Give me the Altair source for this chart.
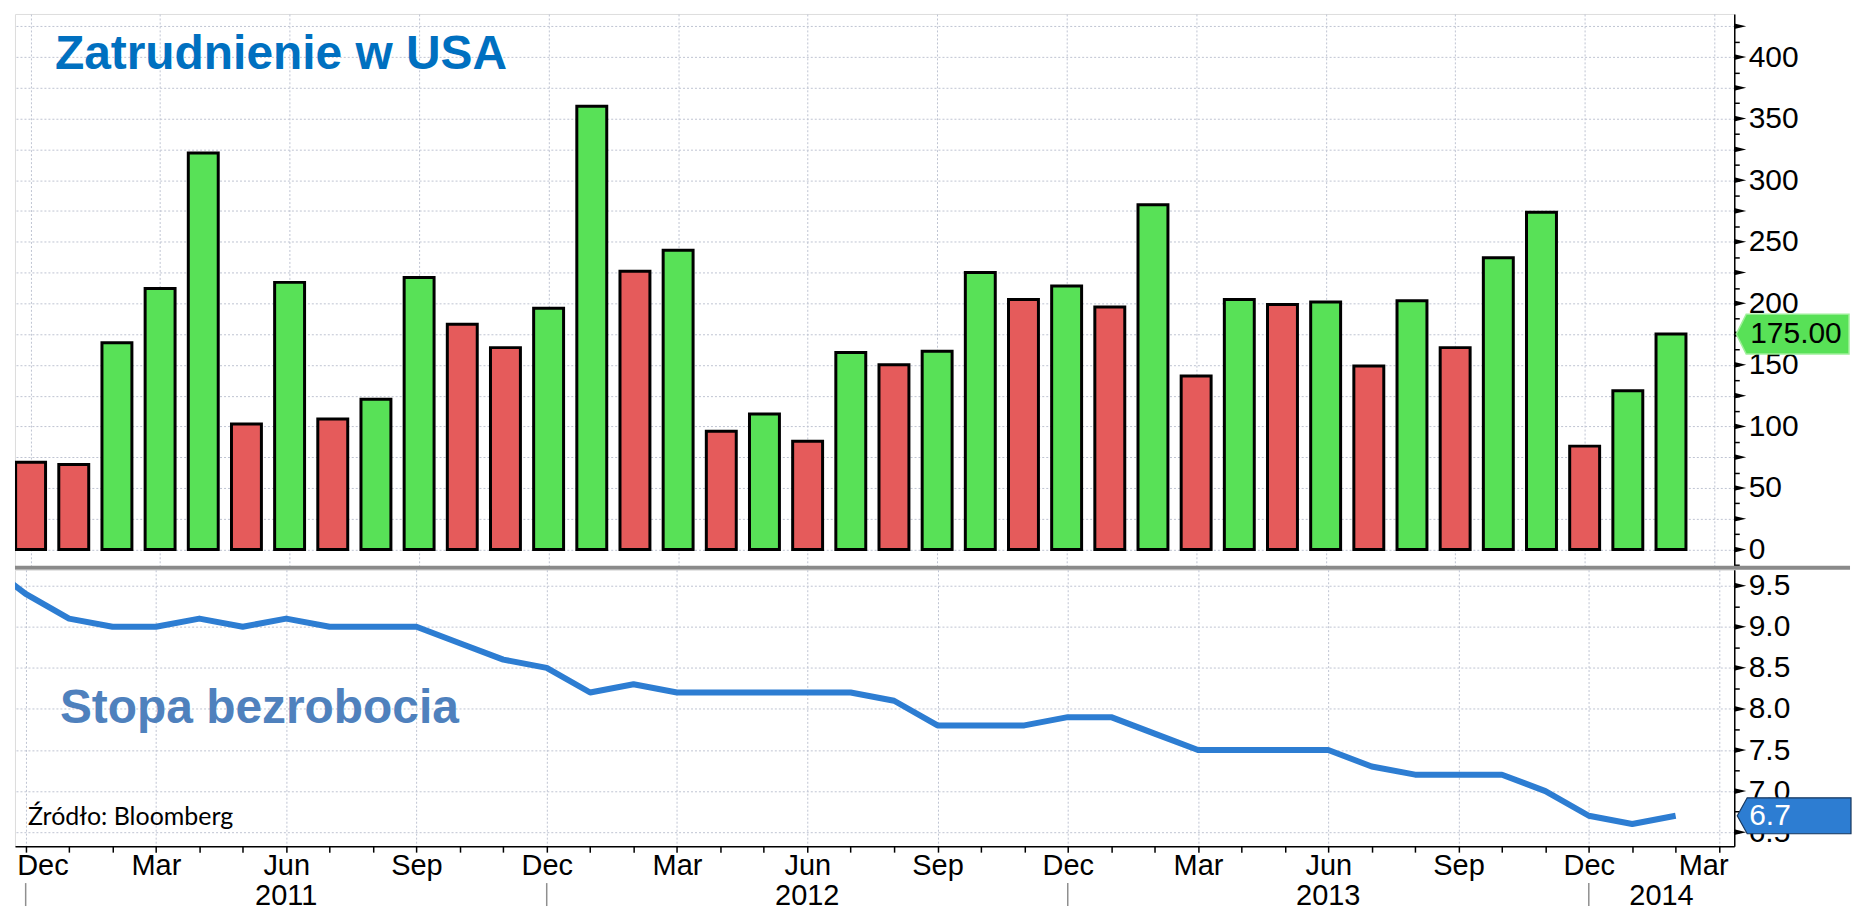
import altair as alt
import pandas as pd

# ---------------- data ----------------
# month index: 0 = Dec 2010 ... 38 = Feb 2014
payroll_idx = list(range(39))
payrolls = [71, 69, 168, 212, 322, 102, 217, 106, 122, 221, 183, 164, 196,
            360, 226, 243, 96, 110, 88, 160, 150, 161, 225, 203, 214,
            197, 280, 141, 203, 199, 201, 149, 202, 164, 237, 274, 84, 129, 175]
direction = ["down", "down", "up", "up", "up", "down", "up", "down", "up", "up",
             "down", "down", "up", "up", "down", "up", "down", "up", "down", "up",
             "down", "up", "up", "down", "up", "down", "up", "down", "up", "down",
             "up", "down", "up", "down", "up", "up", "down", "up", "up"]

# -1 = Nov 2010 ... 38 = Feb 2014
unemp_idx = list(range(-1, 39))
unemployment = [9.8, 9.4, 9.1, 9.0, 9.0, 9.1, 9.0, 9.1, 9.0, 9.0, 9.0, 8.8, 8.6, 8.5,
                8.2, 8.3, 8.2, 8.2, 8.2, 8.2, 8.2, 8.1, 7.8, 7.8, 7.8, 7.9,
                7.9, 7.7, 7.5, 7.5, 7.5, 7.5, 7.3, 7.2, 7.2, 7.2, 7.0, 6.7, 6.6, 6.7]

month_labels = ["Dec", "Mar", "Jun", "Sep"]
year_labels = ["2011", "2012", "2013", "2014"]
year_sep_idx = [0, 12, 24, 36]

top_title = "Zatrudnienie w USA"
bottom_title = "Stopa bezrobocia"
source_text = "Źródło: Bloomberg"

# ---------------- styling / layout ----------------
GREEN = "#58e157"
RED = "#e55b5b"
BLUE = "#2d7dd2"
GRID = "#bfc4d2"
FONT = "Liberation Sans"

X_MIN, X_MAX = -0.246, 39.35
W = 1723
TOP_H = 555
BOT_H = 277
TOP_DOM = [-14.8, 435]
BOT_DOM = [6.33, 9.694]

year_pos = [6, 18, 30, (36 + X_MAX) / 2]

x_scale = alt.Scale(domain=[X_MIN, X_MAX], nice=False, zero=False)

x_axis_top = alt.Axis(values=list(range(0, 40, 3)), labels=False, ticks=False,
                      domain=False, grid=True, gridColor=GRID, gridDash=[2, 2],
                      gridWidth=1, title=None)

month_arr = "[" + ",".join("'" + m + "'" for m in month_labels) + "]"
x_label_expr = "datum.value % 3 === 0 ? " + month_arr + "[(datum.value / 3) % 4] : ''"
x_axis_bot = alt.Axis(
    values=list(range(40)), grid=True, gridColor=GRID, gridDash=[2, 2], gridWidth=1,
    gridOpacity={"condition": {"test": "datum.value % 3 === 0", "value": 1}, "value": 0},
    labelExpr=x_label_expr,
    labelFont=FONT, labelFontSize=29, labelColor="#000", labelPadding=-1,
    labelFlush=20, labelFlushOffset=9, labelOverlap=False,
    tickSize=6, tickColor="#000", tickWidth=1.5,
    domainColor="#000", domainWidth=1.5, title=None, zindex=0)

top_values = [i * 12.5 for i in range(-1, 35)]
y_axis_top = alt.Axis(
    orient="right", values=top_values, grid=True, gridColor=GRID, gridDash=[2, 2],
    gridOpacity={"condition": {"test": "datum.value % 25 === 0 && datum.value >= 0", "value": 1},
                 "value": 0},
    labelExpr="datum.value % 50 === 0 ? format(datum.value, 'd') : ''",
    labelFont=FONT, labelFontSize=30, labelColor="#000", labelPadding=9,
    labelOverlap=False, tickSize=5, tickColor="#000", tickWidth=1.5,
    domainColor="#000", domainWidth=1.5, title=None, zindex=0)

bot_values = [i * 0.25 for i in range(26, 39)]
y_axis_bot = alt.Axis(
    orient="right", values=bot_values, grid=True, gridColor=GRID, gridDash=[2, 2],
    gridOpacity={"condition": {"test": "datum.value % 0.5 === 0", "value": 1}, "value": 0},
    labelExpr="datum.value % 0.5 === 0 ? format(datum.value, '.1f') : ''",
    labelFont=FONT, labelFontSize=30, labelColor="#000", labelPadding=9,
    labelOverlap=False, tickSize=5, tickColor="#000", tickWidth=1.5,
    domainColor="#000", domainWidth=1.5, title=None, zindex=0)

top_y_scale = alt.Scale(domain=TOP_DOM, nice=False, zero=False)
bot_y_scale = alt.Scale(domain=BOT_DOM, nice=False, zero=False)


def xt(f):
    return alt.X(f, type="quantitative", scale=x_scale, axis=x_axis_top, title=None)


def xb(f):
    return alt.X(f, type="quantitative", scale=x_scale, axis=x_axis_bot, title=None)


def yt(f):
    return alt.Y(f, type="quantitative", scale=top_y_scale, axis=y_axis_top, title=None)


def yb(f):
    return alt.Y(f, type="quantitative", scale=bot_y_scale, axis=y_axis_bot, title=None)


ARROW = "M-1,-0.475 L1,0 L-1,0.475 Z"

# ---------------- top panel ----------------
bars_df = pd.DataFrame({"m": payroll_idx, "v": payrolls, "d": direction})
bars = alt.Chart(bars_df).mark_bar(stroke="#000", strokeWidth=3, size=30, clip=True).encode(
    x=xt("m"), y=yt("v"),
    color=alt.Color("d:N", scale=alt.Scale(domain=["up", "down"], range=[GREEN, RED]), legend=None),
)

top_arrows = alt.Chart(pd.DataFrame({"v": [i * 25 for i in range(0, 18)]})).mark_point(
    shape=ARROW, filled=True, color="#000", size=144, opacity=1).encode(
    x=alt.value(W + 6), y=yt("v"))

top_text = alt.Chart(pd.DataFrame({"t": [top_title]})).mark_text(
    align="left", baseline="alphabetic", font=FONT, fontWeight="bold", fontSize=48,
    color="#0070c0").encode(text="t:N", x=alt.value(40), y=alt.value(55))

last_pay = pd.DataFrame({"v": [payrolls[-1]]})
GTAG = "M-1,0 L-0.823,-0.354 L1,-0.354 L1,0.354 L-0.823,0.354 Z"
green_tag = alt.Chart(last_pay).mark_point(
    shape=GTAG, filled=True, fill=GREEN, stroke="#9ff09a", strokeWidth=1.5,
    size=113 * 113, opacity=1).encode(x=alt.value(W + 58.5), y=yt("v"))
green_tag_text = alt.Chart(last_pay).mark_text(
    align="left", baseline="middle", font=FONT, fontSize=30, color="#000").encode(
    x=alt.value(W + 16), y=yt("v"), text=alt.Text("v:Q", format=".2f"))

separator = alt.Chart(alt.Data(values=[{}])).mark_rule(color="#8a8a8a", strokeWidth=4).encode(
    x=alt.value(0), x2=alt.value(1839), y=alt.value(TOP_H))

top = alt.layer(bars, top_arrows, top_text, green_tag, green_tag_text, separator).properties(
    width=W, height=TOP_H)

# ---------------- bottom panel ----------------
line_df = pd.DataFrame({"m": unemp_idx, "v": unemployment})
line = alt.Chart(line_df).mark_line(color=BLUE, strokeWidth=6, clip=True, strokeJoin="round").encode(
    x=xb("m"), y=yb("v"))

bot_arrows = alt.Chart(pd.DataFrame({"v": [6.5 + 0.5 * i for i in range(7)]})).mark_point(
    shape=ARROW, filled=True, color="#000", size=144, opacity=1).encode(
    x=alt.value(W + 6), y=yb("v"))

bot_text = alt.Chart(pd.DataFrame({"t": [bottom_title]})).mark_text(
    align="left", baseline="alphabetic", font=FONT, fontWeight="bold", fontSize=48,
    color="#4f81bd").encode(text="t:N", x=alt.value(45), y=alt.value(154))

src_text = alt.Chart(pd.DataFrame({"t": [source_text]})).mark_text(
    align="left", baseline="alphabetic", font="Lato", fontSize=25, color="#000").encode(
    text="t:N", x=alt.value(13), y=alt.value(256))

last_un = pd.DataFrame({"v": [unemployment[-1]]})
BTAG = "M-1,0 L-0.825,-0.316 L1,-0.316 L1,0.316 L-0.825,0.316 Z"
blue_tag = alt.Chart(last_un).mark_point(
    shape=BTAG, filled=True, fill=BLUE, stroke="#17375e", strokeWidth=1.2,
    size=114 * 114, opacity=1).encode(x=alt.value(W + 60), y=yb("v"))
blue_tag_text = alt.Chart(last_un).mark_text(
    align="left", baseline="middle", font=FONT, fontSize=30, color="#fff").encode(
    x=alt.value(W + 15), y=yb("v"), text=alt.Text("v:Q", format=".1f"))

years = alt.Chart(pd.DataFrame({"m": year_pos, "t": year_labels})).mark_text(
    align="center", baseline="middle", font=FONT, fontSize=29, color="#000").encode(
    x=xb("m"), y=alt.value(BOT_H + 50), text="t:N")

year_seps = alt.Chart(pd.DataFrame({"m": year_sep_idx})).mark_rule(
    color="#8f8f8f", strokeWidth=1.5).encode(
    x=xb("m"), y=alt.value(BOT_H + 37), y2=alt.value(BOT_H + 60))

bottom = alt.layer(line, bot_arrows, bot_text, src_text, blue_tag, blue_tag_text,
                   years, year_seps).properties(width=W, height=BOT_H)

chart = alt.vconcat(top, bottom, spacing=2, bounds="flush").properties(
    padding={"left": 4, "top": 1, "right": 0, "bottom": 0}
).configure_view(stroke=None).configure(background="white")

chart.save("out.html", embed_options={"renderer": "svg", "actions": False})
